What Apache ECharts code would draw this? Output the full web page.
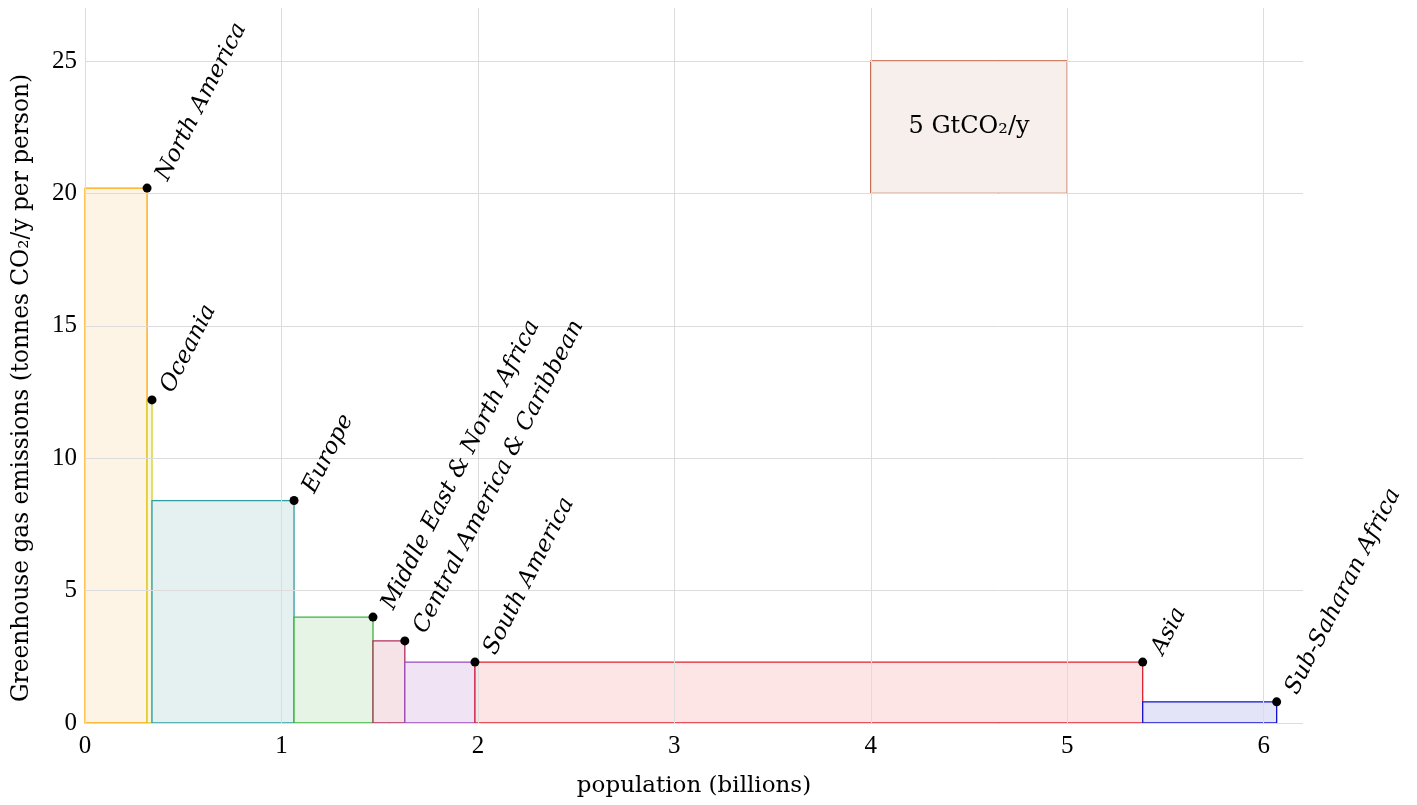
<!DOCTYPE html>
<html>
<head>
<meta charset="utf-8">
<script src="https://cdn.jsdelivr.net/npm/echarts@6/dist/echarts.min.js"></script>
<style>html,body{margin:0;padding:0;background:#fff;}#c{width:1417px;height:805px;}</style>
</head>
<body>
<div id="c"></div>
<script>
const regions = ['North America','Oceania','Europe','Middle East & North Africa','Central America & Caribbean','South America','Asia','Sub-Saharan Africa'];
const population = [0.316, 0.025, 0.723, 0.402, 0.162, 0.357, 3.399, 0.682];
const emissions = [20.2, 12.2, 8.4, 4.0, 3.1, 2.3, 2.3, 0.8];
const strokeColors = ['#FFA500','#D0D020','#2E9E9E','#3CB43C','#B0305E','#9A4AC0','#E0202E','#1010D0'];
const fillColors = ['#FEF4E6','#F8F8DF','#E5F1F1','#E6F4E6','#F5E3E8','#EFE3F4','#FDE4E5','#E4E4F8'];
const xTicks = [0,1,2,3,4,5,6];
const yTicks = [0,5,10,15,20,25];
const scaleBox = {x0: 4, x1: 5, y0: 20, y1: 25, label: '5 GtCO₂/y'};

const TEXTFONT = '"DejaVu Serif", serif';
const NUMFONT = '"Liberation Serif", serif';

const cumStart = [];
const cumEnd = [];
let acc = 0;
population.forEach(p => { cumStart.push(acc); acc += p; cumEnd.push(acc); });

const barData = regions.map((r, i) => [cumStart[i], cumEnd[i], emissions[i], i]);
const dotData = regions.map((r, i) => [cumEnd[i], emissions[i], r]);

const chart = echarts.init(document.getElementById('c'));
chart.setOption({
  animation: false,
  grid: {left: 85, right: 114, top: 8, bottom: 82},
  xAxis: {
    type: 'value', min: 0, max: 6.2, interval: 1,
    axisLine: {show: false}, axisTick: {show: false}, splitLine: {show: false},
    axisLabel: {fontFamily: NUMFONT, fontSize: 25, color: '#000', margin: 11,
      formatter: v => (Math.abs(v - Math.round(v)) < 1e-9 ? String(v) : '')},
    name: 'population (billions)', nameLocation: 'middle', nameGap: 52,
    nameTextStyle: {fontFamily: TEXTFONT, fontSize: 23, color: '#000'}
  },
  yAxis: {
    type: 'value', min: 0, max: 27, interval: 5,
    axisLine: {show: false}, axisTick: {show: false}, splitLine: {show: false},
    axisLabel: {fontFamily: NUMFONT, fontSize: 25, color: '#000', margin: 8,
      formatter: v => (v % 5 === 0 ? String(v) : '')}
  },
  graphic: [{
    type: 'text', x: 22, y: 388, rotation: Math.PI / 2,
    style: {text: 'Greenhouse gas emissions (tonnes CO₂/y per person)', font: '23.3px ' + TEXTFONT,
      fill: '#000', align: 'center', verticalAlign: 'middle'}
  }],
  series: [
    {
      type: 'scatter', z: 0, data: [[0, 0]], symbolSize: 0, silent: true,
      markLine: {
        silent: true, symbol: 'none', label: {show: false},
        lineStyle: {color: '#dcdcdc', width: 1, type: 'solid'},
        data: xTicks.map(v => ({xAxis: v})).concat(yTicks.map(v => ({yAxis: v})))
      }
    },
    {
      type: 'custom', z: 2, silent: true,
      data: [[scaleBox.x0, scaleBox.x1, scaleBox.y0, scaleBox.y1]],
      renderItem: (params, api) => {
        const p0 = api.coord([api.value(0), api.value(2)]);
        const p1 = api.coord([api.value(1), api.value(3)]);
        return {type: 'group', children: [
          {type: 'rect', shape: {x: p0[0], y: p1[1], width: p1[0] - p0[0], height: p0[1] - p1[1]},
           style: {fill: '#F7EFEC', stroke: '#BE5533', lineWidth: 1.3}},
          {type: 'text', style: {x: (p0[0] + p1[0]) / 2, y: (p0[1] + p1[1]) / 2, text: scaleBox.label,
            font: '24px ' + TEXTFONT, fill: '#000', align: 'center', verticalAlign: 'middle'}}
        ]};
      }
    },
    {
      type: 'custom', z: 3, silent: true,
      data: barData,
      renderItem: (params, api) => {
        const i = api.value(3);
        const p0 = api.coord([api.value(0), 0]);
        const p1 = api.coord([api.value(1), api.value(2)]);
        return {type: 'rect', shape: {x: p0[0], y: p1[1], width: p1[0] - p0[0], height: p0[1] - p1[1]},
          style: {fill: fillColors[i], stroke: strokeColors[i], lineWidth: 1.3}};
      }
    },
    {
      type: 'scatter', z: 5, silent: true,
      data: dotData, symbolSize: 9, itemStyle: {color: '#000', opacity: 1}
    },
    {
      type: 'custom', z: 6, silent: true,
      data: dotData,
      renderItem: (params, api) => {
        const p = api.coord([api.value(0), api.value(1)]);
        return {type: 'text', x: p[0] + 15, y: p[1] - 9, rotation: 63 * Math.PI / 180,
          style: {x: 0, y: 0, text: regions[params.dataIndex], font: 'italic 23px ' + TEXTFONT,
            fill: '#000', align: 'left', verticalAlign: 'middle'}};
      }
    }
  ]
});
</script>
</body>
</html>
